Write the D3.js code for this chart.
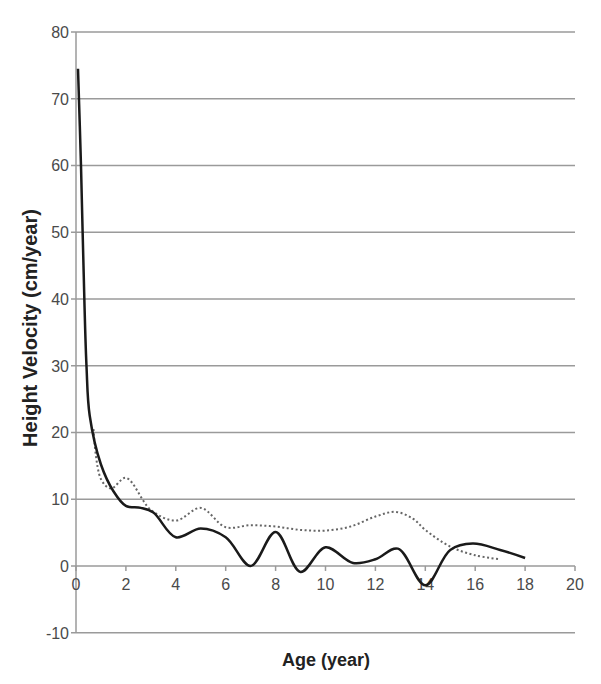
<!doctype html>
<html>
<head>
<meta charset="utf-8"/>
<title>Height Velocity</title>
<script src="https://d3js.org/d3.v7.min.js"></script>
<style>
body { margin:0; background:#fff; }
text { font-family: "Liberation Sans", Arial, sans-serif; }
</style>
</head>
<body>
<script>
// ages (year) and height velocity (cm/year)
var solidAge = [0.08, 0.2, 0.3, 0.42, 0.55, 1, 1.5, 2, 2.6, 3.1, 4, 5, 6, 7, 8, 9, 10, 11.1, 12, 12.9, 14, 15, 15.9, 17, 18];
var solidVel = [74.5, 60, 45, 30, 22.5, 15.2, 11.2, 9, 8.7, 8, 4.3, 5.6, 4.3, 0, 5.1, -0.9, 2.8, 0.45, 1, 2.6, -2.9, 2.4, 3.35, 2.4, 1.2];

var dotAge = [0.7, 1, 1.4, 2, 3, 4, 5, 6, 7, 8, 9, 10, 11, 12, 12.8, 13.5, 14, 15, 16, 17];
var dotVel = [20.5, 13, 11.6, 13.2, 8.4, 6.8, 8.7, 5.8, 6.1, 5.9, 5.4, 5.3, 5.9, 7.4, 8.1, 7.1, 5.4, 2.9, 1.6, 1.0];

var xTicks = [0, 2, 4, 6, 8, 10, 12, 14, 16, 18, 20];
var yTicks = [-10, 0, 10, 20, 30, 40, 50, 60, 70, 80];

var svg = d3.select("body").append("svg")
  .attr("width", 601)
  .attr("height", 684);

var x = d3.scaleLinear().domain([0, 20]).range([76, 575]);
var y = d3.scaleLinear().domain([-10, 80]).range([632.7, 32]);

// gridlines
svg.append("g").selectAll("line").data(yTicks).enter().append("line")
  .attr("x1", x(0) - 5).attr("x2", x(20))
  .attr("y1", function(d){ return y(d); })
  .attr("y2", function(d){ return y(d); })
  .attr("stroke", "#9a9a9a").attr("stroke-width", 1.5);

// y axis line
svg.append("line")
  .attr("x1", x(0)).attr("x2", x(0))
  .attr("y1", y(80)).attr("y2", y(-10))
  .attr("stroke", "#9a9a9a").attr("stroke-width", 1.5);

// y tick labels
svg.append("g").selectAll("text").data(yTicks).enter().append("text")
  .attr("x", 69)
  .attr("y", function(d){ return y(d) + 6; })
  .attr("text-anchor", "end")
  .attr("font-size", 16)
  .attr("fill", "#4a4a4a")
  .text(function(d){ return d; });

// x ticks on zero line
svg.append("g").selectAll("line").data(xTicks).enter().append("line")
  .attr("x1", function(d){ return x(d); })
  .attr("x2", function(d){ return x(d); })
  .attr("y1", y(0)).attr("y2", y(0) + 5)
  .attr("stroke", "#9a9a9a").attr("stroke-width", 1.5);

svg.append("g").selectAll("text").data(xTicks).enter().append("text")
  .attr("x", function(d){ return x(d); })
  .attr("y", y(0) + 24)
  .attr("text-anchor", "middle")
  .attr("font-size", 16)
  .attr("fill", "#4a4a4a")
  .text(function(d){ return d; });

// lines
var line = d3.line()
  .x(function(d){ return x(d[0]); })
  .y(function(d){ return y(d[1]); })
  .curve(d3.curveCatmullRom.alpha(0.5));

svg.append("path")
  .datum(dotAge.map(function(a, i){ return [a, dotVel[i]]; }))
  .attr("d", line)
  .attr("fill", "none")
  .attr("stroke", "#666")
  .attr("stroke-width", 2)
  .attr("stroke-dasharray", "2,2.5");

svg.append("path")
  .datum(solidAge.map(function(a, i){ return [a, solidVel[i]]; }))
  .attr("d", line)
  .attr("fill", "none")
  .attr("stroke", "#1a1a1a")
  .attr("stroke-width", 2.5);

// axis titles
svg.append("text")
  .attr("x", 326).attr("y", 666)
  .attr("text-anchor", "middle")
  .attr("font-size", 18).attr("font-weight", "bold")
  .attr("fill", "#222")
  .text("Age (year)");

svg.append("text")
  .attr("transform", "translate(37,328) rotate(-90)")
  .attr("text-anchor", "middle")
  .attr("font-size", 20).attr("font-weight", "bold")
  .attr("fill", "#222")
  .text("Height Velocity (cm/year)");
</script>
</body>
</html>
